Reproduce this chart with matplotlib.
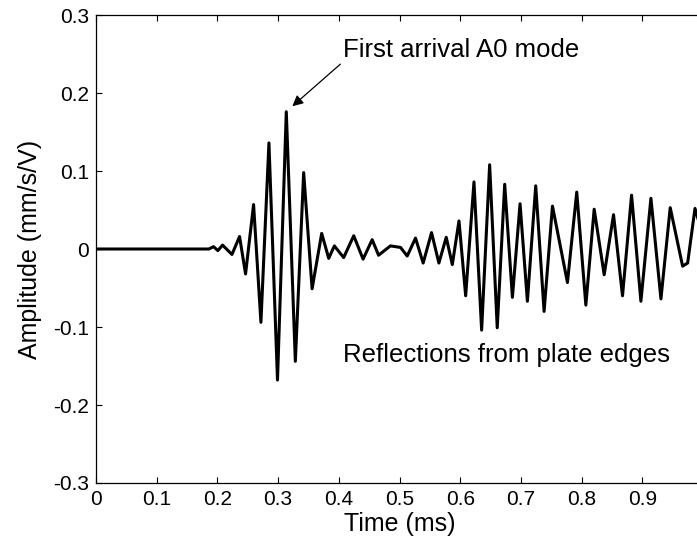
import matplotlib
matplotlib.use("Agg")
import matplotlib.pyplot as plt

plt.rcParams['font.family'] = ['Liberation Sans', 'DejaVu Sans']

# Waveform: (time in ms, amplitude in mm/s/V) at peaks/troughs
time_ms = [0.0, 0.186, 0.1937, 0.2007, 0.2085, 0.224, 0.2365, 0.2464, 0.2596, 0.2717,
           0.2849, 0.2990, 0.3135, 0.3284, 0.3421, 0.356, 0.3718, 0.3834, 0.3927, 0.408,
           0.4246, 0.44, 0.455, 0.4655, 0.485, 0.5017, 0.5127, 0.5264, 0.539, 0.5528,
           0.5649, 0.577, 0.587, 0.598, 0.609, 0.6227, 0.6353, 0.6485, 0.661, 0.6733,
           0.686, 0.6986, 0.7107, 0.7244, 0.7382, 0.752, 0.7767, 0.792, 0.807, 0.8207,
           0.8372, 0.8526, 0.8674, 0.8823, 0.8977, 0.9142, 0.9307, 0.946, 0.9664, 0.9747,
           0.9868, 0.995, 1.0]
amplitude = [0.0, 0.0, 0.003, -0.002, 0.005, -0.007, 0.016, -0.032, 0.057, -0.094,
             0.136, -0.168, 0.176, -0.144, 0.098, -0.051, 0.020, -0.012, 0.004, -0.011,
             0.017, -0.013, 0.012, -0.008, 0.004, 0.002, -0.009, 0.014, -0.018, 0.021,
             -0.018, 0.015, -0.020, 0.036, -0.060, 0.086, -0.104, 0.108, -0.101, 0.083,
             -0.062, 0.058, -0.067, 0.081, -0.080, 0.055, -0.043, 0.073, -0.072, 0.051,
             -0.033, 0.044, -0.060, 0.069, -0.067, 0.065, -0.064, 0.053, -0.022, -0.018,
             0.052, 0.030, 0.035]

x_ticks = [0, 0.1, 0.2, 0.3, 0.4, 0.5, 0.6, 0.7, 0.8, 0.9, 1]
x_tick_labels = ['0', '0.1', '0.2', '0.3', '0.4', '0.5', '0.6', '0.7', '0.8', '0.9', '1']
y_ticks = [-0.3, -0.2, -0.1, 0, 0.1, 0.2, 0.3]
y_tick_labels = ['-0.3', '-0.2', '-0.1', '0', '0.1', '0.2', '0.3']

W, H = 697, 548
fig = plt.figure(figsize=(W / 100, H / 100), dpi=100)
ax = fig.add_axes([96 / W, (H - 483) / H, 607 / W, 468 / H])

ax.plot(time_ms, amplitude, color='black', lw=2.2, solid_joinstyle='round')

ax.set_xlim(0, 1)
ax.set_ylim(-0.3, 0.3)
ax.set_xticks(x_ticks)
ax.set_xticklabels(x_tick_labels)
ax.set_yticks(y_ticks)
ax.set_yticklabels(y_tick_labels)
ax.tick_params(direction='in', length=4, width=0.8, top=True, right=True,
               labelsize=15, pad=5)
for s in ax.spines.values():
    s.set_linewidth(0.9)

ax.set_xlabel('Time (ms)', fontsize=18, labelpad=2)
ax.set_ylabel('Amplitude (mm/s/V)', fontsize=18, labelpad=8)

ax.annotate('', xy=(0.3234, 0.183), xytext=(0.4026, 0.237),
            arrowprops=dict(arrowstyle='-|>', color='black', lw=0.9,
                            mutation_scale=16, shrinkA=0, shrinkB=0))
ax.text(0.4076, 0.246, 'First arrival A0 mode', fontsize=18.5, va='baseline', ha='left')
ax.text(0.4076, -0.145, 'Reflections from plate edges', fontsize=18.5, va='baseline', ha='left')

fig.savefig('out.png', dpi=100)
